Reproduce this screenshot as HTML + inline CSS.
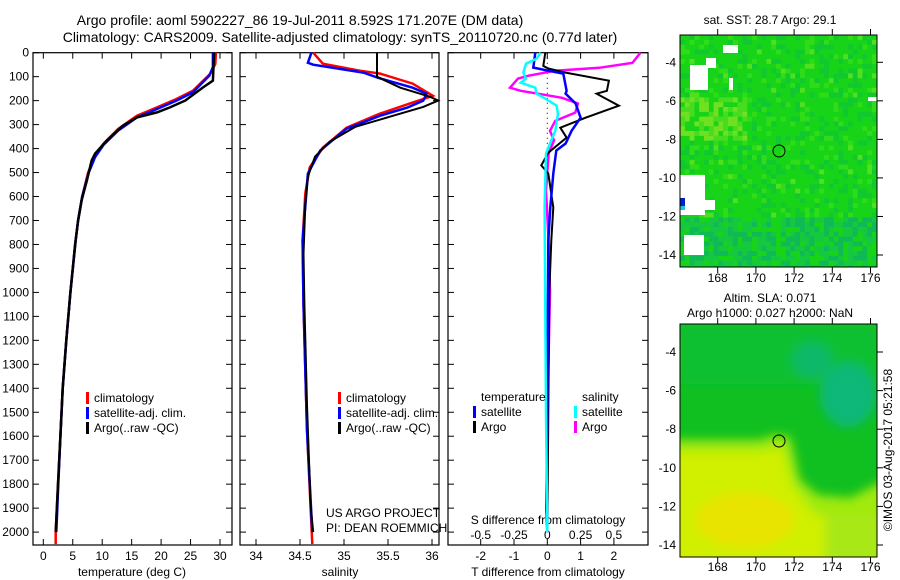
<!DOCTYPE html>
<html><head><meta charset="utf-8"><style>
html,body{margin:0;padding:0;background:#fff}
svg{display:block;font-family:"Liberation Sans",sans-serif}
</style></head><body>
<svg id="c" width="900" height="580" viewBox="0 0 900 580" xmlns="http://www.w3.org/2000/svg">
<defs>
<filter id="blur" x="-10%" y="-10%" width="120%" height="120%"><feGaussianBlur stdDeviation="5"/></filter>
<clipPath id="m1clip"><rect x="680" y="35" width="197" height="232"/></clipPath>
<clipPath id="m2clip"><rect x="680" y="324" width="197" height="233"/></clipPath>
</defs>
<text x="300" y="25" font-size="14" text-anchor="middle">Argo profile: aoml 5902227_86 19-Jul-2011 8.592S 171.207E (DM data)</text>
<text x="340" y="42" font-size="14" text-anchor="middle">Climatology: CARS2009. Satellite-adjusted climatology: synTS_20110720.nc (0.77d later)</text>
<g id="panels"></g>
<g>
<text x="770" y="24" font-size="12" text-anchor="middle">sat. SST: 28.7 Argo: 29.1</text>
<g clip-path="url(#m1clip)">
<rect x="680" y="35" width="197" height="232" fill="#18d418"/>
<g id="m1cells"></g>
<rect x="723" y="45" width="15" height="8" fill="#fff"/>
<rect x="690" y="65" width="18" height="25" fill="#fff"/>
<rect x="706" y="58" width="10" height="10" fill="#fff"/>
<rect x="729" y="78" width="4" height="12" fill="#fff"/>
<rect x="680" y="175" width="25" height="40" fill="#fff"/>
<rect x="680" y="200" width="35" height="10" fill="#fff"/>
<rect x="680" y="198" width="5" height="8" fill="#0020c0"/>
<rect x="680" y="206" width="5" height="4" fill="#20c0e0"/>
<rect x="684" y="235" width="20" height="20" fill="#fff"/>
<rect x="868" y="97" width="9" height="4" fill="#fff"/>
</g>
<rect x="680" y="35" width="197" height="232" fill="none" stroke="#000"/>
<circle cx="779" cy="151" r="6" fill="none" stroke="#000"/>
</g>
<g>
<text x="770" y="302" font-size="12" text-anchor="middle">Altim. SLA: 0.071</text>
<text x="770" y="317" font-size="12" text-anchor="middle">Argo h1000: 0.027 h2000: NaN</text>
<g clip-path="url(#m2clip)">
<rect x="680" y="324" width="197" height="233" fill="#10c020"/>
<g filter="url(#blur)">
<rect x="680" y="324" width="197" height="60" fill="#08c030"/>
<ellipse cx="848" cy="395" rx="28" ry="32" fill="#10b878"/>
<ellipse cx="812" cy="360" rx="20" ry="18" fill="#10b868"/>
<polygon points="670,440 760,440 775,435 790,437 800,480 818,495 850,498 885,480 885,600 670,600" fill="#a0ea10"/>
<polygon points="670,452 760,452 782,448 792,485 815,515 885,520 885,600 670,600" fill="#d0f000"/>
<ellipse cx="745" cy="520" rx="50" ry="28" fill="#e8e400"/>
<rect x="825" y="515" width="60" height="50" fill="#a8e818"/>
</g>
</g>
<rect x="680" y="324" width="197" height="233" fill="none" stroke="#000"/>
<circle cx="779" cy="441" r="6" fill="none" stroke="#000"/>
<text transform="translate(892,450) rotate(-90)" font-size="12" text-anchor="middle">©IMOS 03-Aug-2017 05:21:58</text>
</g>
</svg>
<script>
// ---- data ----
const tempDepthBlack=[0,117,145,200,228,249,270,305,366,421,450,533,616,700,783,900,1000,1200,1400,1600,1800,2000];
const tempArgo=[29.0,28.8,27.1,24.1,21.5,19.3,15.9,13.5,10.8,8.8,8.2,7.4,6.5,5.9,5.5,5.0,4.6,3.9,3.3,2.9,2.5,2.1];
const tempDepthClim=[0,47,89,159,193,228,263,318,380,429,500,600,700,800,900,1000,1200,1400,1600,1800,2000,2050];
const tempClim=[29.3,29.2,28.3,25.4,22.6,19.3,15.9,12.7,10.2,8.8,7.6,6.6,5.9,5.4,5.0,4.6,3.9,3.3,2.9,2.5,2.1,2.1];
const tempDepthSat=[0,60,95,165,200,235,270,325,385,435,500,600,700,800,900,1000,1200,1400,1600,1800,2000];
const tempSat=[28.8,28.8,28.2,25.4,22.6,19.3,15.9,12.7,10.2,8.8,7.7,6.6,5.9,5.4,5.0,4.6,3.9,3.3,2.9,2.55,2.2];

const salDepthBlack=[0,100,146,184,200,226,267,309,371,434,517,630,840,1050,1470,1890,2000];
const salArgo=[35.375,35.375,35.64,35.98,36.07,35.9,35.52,35.13,34.84,34.67,34.59,34.56,34.54,34.55,34.58,34.62,34.65];
const salDepthClim=[0,46,75,87,129,180,208,254,313,396,479,588,783,1050,1575,2050];
const salClim=[34.65,34.76,35.18,35.41,35.78,36.01,35.78,35.41,35.03,34.76,34.61,34.56,34.53,34.54,34.58,34.64];
const salDepthSat=[0,42,50,83,104,146,171,200,229,263,317,408,504,783,1050,1575,2000];
const salSat=[34.63,34.59,34.65,35.22,35.38,35.78,35.94,35.9,35.72,35.41,35.03,34.73,34.59,34.53,34.54,34.58,34.64];

const tdDepthArgo=[0,55,66,83,117,159,171,221,271,313,354,417,470,504,646,783,1000,1500,2000];
const tdArgo=[-0.06,-0.12,0.03,0.55,1.85,1.79,1.48,2.15,1.15,0.39,0.58,0.03,-0.18,0.03,0.18,0.12,0.06,0.03,0.0];
const tdDepthSat=[0,62,75,87,159,171,212,271,326,379,408,504,646,783,1500,1900,2000];
const tdSat=[-0.36,-0.42,0.03,0.48,0.58,0.55,0.85,1.0,0.73,0.55,0.27,0.18,0.09,0.03,0.0,-0.03,0.0];
const sdDepthArgo=[0,42,63,75,96,108,146,159,171,188,212,250,284,326,366,421,575,783,1000,1500,2000];
const sdArgo=[0.70,0.64,0.39,0.06,-0.14,-0.22,-0.28,-0.2,-0.07,0.11,0.23,0.21,0.06,0.02,0.05,0.01,-0.01,0.01,0.02,0.0,0.0];
const sdDepthSat=[0,25,46,83,108,125,146,171,200,221,254,326,366,421,646,1500,2000];
const sdSat=[-0.05,-0.08,-0.16,-0.18,-0.16,-0.2,-0.09,-0.08,0.01,0.07,0.08,0.06,0.03,-0.01,-0.02,-0.01,0.0];

const depthTicks=[0,100,200,300,400,500,600,700,800,900,1000,1100,1200,1300,1400,1500,1600,1700,1800,1900,2000];
const tempTicks=[0,5,10,15,20,25,30];
const salTicks=[34,34.5,35,35.5,36];
const tdTicks=[-2,-1,0,1,2];
const sdTicks=[-0.5,-0.25,0,0.25,0.5];
const sdTickLabels=["-0.5","-0.25","0","0.25","0.5"];
const lonTicks=[168,170,172,174,176];
const latTicks=[-4,-6,-8,-10,-12,-14];

// ---- axes ----
const NS="http://www.w3.org/2000/svg";
const TOP=52.7, BOT=545;
const yD=d=>TOP+d*0.2397;
const xT=t=>43.3+t*5.89;
const xS=s=>300+(s-34.5)*88;
const xTD=t=>547.3+t*33.3;
const xSD=s=>547.3+s*133.2;
const lonX=l=>717.7+(l-168)*19.1;
const lat1Y=l=>62.3+(-4-l)*19.27;
const lat2Y=l=>352+(-4-l)*19.3;
const root=document.getElementById('panels');
function mk(tag,attrs,parent){const e=document.createElementNS(NS,tag);for(const k in attrs)e.setAttribute(k,attrs[k]);(parent||root).appendChild(e);return e;}
function txt(x,y,s,anchor,size,name,parent){const e=mk('text',{x:x,y:y,'font-size':size||12,'text-anchor':anchor||'middle'},parent);e.textContent=s;


return e;}
function line(xs,ys,color,w,name,dash){const pts=xs.map((x,i)=>x.toFixed(1)+','+ys[i].toFixed(1)).join(' ');
const p=mk('polyline',{points:pts,fill:'none',stroke:color,'stroke-width':w||2,'stroke-linejoin':'miter'});
if(dash)p.setAttribute('stroke-dasharray',dash);


return p;}
function frame(x0,x1,name){const r=mk('rect',{x:x0,y:TOP,width:x1-x0,height:BOT-TOP,fill:'none',stroke:'#000','stroke-width':1.2});


depthTicks.forEach(d=>{mk('line',{x1:x0,x2:x0+6,y1:yD(d),y2:yD(d),stroke:'#000'});mk('line',{x1:x1,x2:x1-6,y1:yD(d),y2:yD(d),stroke:'#000'});});}
function xticks(vals,fx,labels,ly,name){vals.forEach((v,i)=>{const x=fx(v);mk('line',{x1:x,x2:x,y1:TOP,y2:TOP+6,stroke:'#000'});mk('line',{x1:x,x2:x,y1:BOT,y2:BOT-6,stroke:'#000'});
txt(x,ly,labels?labels[i]:String(v),'middle',12,name);});}
function legend(x,y,items,prefix){items.forEach((it,i)=>{const r=mk('rect',{x:x,y:y+i*15-10,width:3,height:12,fill:it[0]});


txt(x+8,y+i*15,it[1],'start',12,prefix+'-legend-entry');});}

// SST map texture (decorative)
(function(){const g=document.getElementById('m1cells');let s=7;
const rnd=()=>{s=(s*9301+49297)%233280;return s/233280;};
for(let y=35;y<267;y+=4.8){for(let x=680;x<877;x+=4.8){const r=rnd();
let c=null;const south=y>215, nw=(x<745&&y>95&&y<140);
if(nw&&r<0.7)c=r<0.35?'#70e020':'#48dc20';
else if(south&&r<0.7)c=r<0.3?'#10b858':'#14c840';
else if(r<0.18)c='#10c830';else if(r<0.3)c='#30dc18';else if(r<0.34)c='#50e020';
if(c)mk('rect',{x:x.toFixed(1),y:y.toFixed(1),width:4.9,height:4.9,fill:c},g);}}})();

// panel 1
frame(33,232,'temperature-panel');
xticks(tempTicks,xT,null,560,'temperature-tick-label');
depthTicks.forEach(d=>txt(29,yD(d)+4,String(d),'end',12,'depth-tick-label'));
txt(132,576,'temperature (deg C)','middle',12,'temperature-axis-title');
line(tempClim.map(xT),tempDepthClim.map(yD),'#f00',2.5,'temperature-climatology-line');
line(tempSat.map(xT),tempDepthSat.map(yD),'#00f',2.5,'temperature-satellite-line');
line(tempArgo.map(xT),tempDepthBlack.map(yD),'#000',2.5,'temperature-argo-line');
legend(86,402,[['#f00','climatology'],['#00f','satellite-adj. clim.'],['#000','Argo(..raw -QC)']],'temperature');

// panel 2
frame(240,439,'salinity-panel');
xticks(salTicks,xS,null,560,'salinity-tick-label');
txt(340,576,'salinity','middle',12,'salinity-axis-title');
line(salClim.map(xS),salDepthClim.map(yD),'#f00',2.5,'salinity-climatology-line');
line(salSat.map(xS),salDepthSat.map(yD),'#00f',2.5,'salinity-satellite-line');
line(salArgo.map(xS),salDepthBlack.map(yD),'#000',2,'salinity-argo-line');
legend(338,402,[['#f00','climatology'],['#00f','satellite-adj. clim.'],['#000','Argo(..raw -QC)']],'salinity');
txt(326,517,'US ARGO PROJECT','start',12,'project-credit');
txt(326,532,'PI: DEAN ROEMMICH','start',12,'pi-credit');

// panel 3
frame(448,648,'difference-panel');
xticks(tdTicks,xTD,null,560,'t-difference-tick-label');
sdTicks.forEach((v,i)=>txt(xSD(v),539,sdTickLabels[i],'middle',12,'s-difference-tick-label'));
txt(548,524,'S difference from climatology','middle',12,'s-difference-axis-title');
txt(548,576,'T difference from climatology','middle',12,'t-difference-axis-title');
line([xTD(0),xTD(0)],[yD(0),yD(420)],'#000',1,'zero-reference-line','1,4');
line(sdArgo.map(xSD),sdDepthArgo.map(yD),'#f0f',2.5,'s-difference-argo-line');
line(tdArgo.map(xTD),tdDepthArgo.map(yD),'#000',2,'t-difference-argo-line');
line(tdSat.map(xTD),tdDepthSat.map(yD),'#00f',2.5,'t-difference-satellite-line');
line(sdSat.map(xSD),sdDepthSat.map(yD),'#0ff',2.5,'s-difference-satellite-line');
txt(481,401,'temperature','start',12,'temperature-legend-heading');
txt(582,401,'salinity','start',12,'salinity-legend-heading');
legend(473,416,[['#00f','satellite'],['#000','Argo']],'t-difference');
legend(574,416,[['#0ff','satellite'],['#f0f','Argo']],'s-difference');

// map axes
[[35,267,lat1Y,282],[324,557,lat2Y,571]].forEach(([t,b,fy,ly])=>{
 lonTicks.forEach(l=>{const x=lonX(l);mk('line',{x1:x,x2:x,y1:t-6,y2:t,stroke:'#000'});mk('line',{x1:x,x2:x,y1:b,y2:b+6,stroke:'#000'});
 txt(x,ly,String(l),'middle',12,'longitude-tick-label');});
 latTicks.forEach(l=>{const y=fy(l);mk('line',{x1:877,x2:883,y1:y,y2:y,stroke:'#000'});
 txt(676,y+4,String(l),'end',12,'latitude-tick-label');});
});
</script>
</body></html>
